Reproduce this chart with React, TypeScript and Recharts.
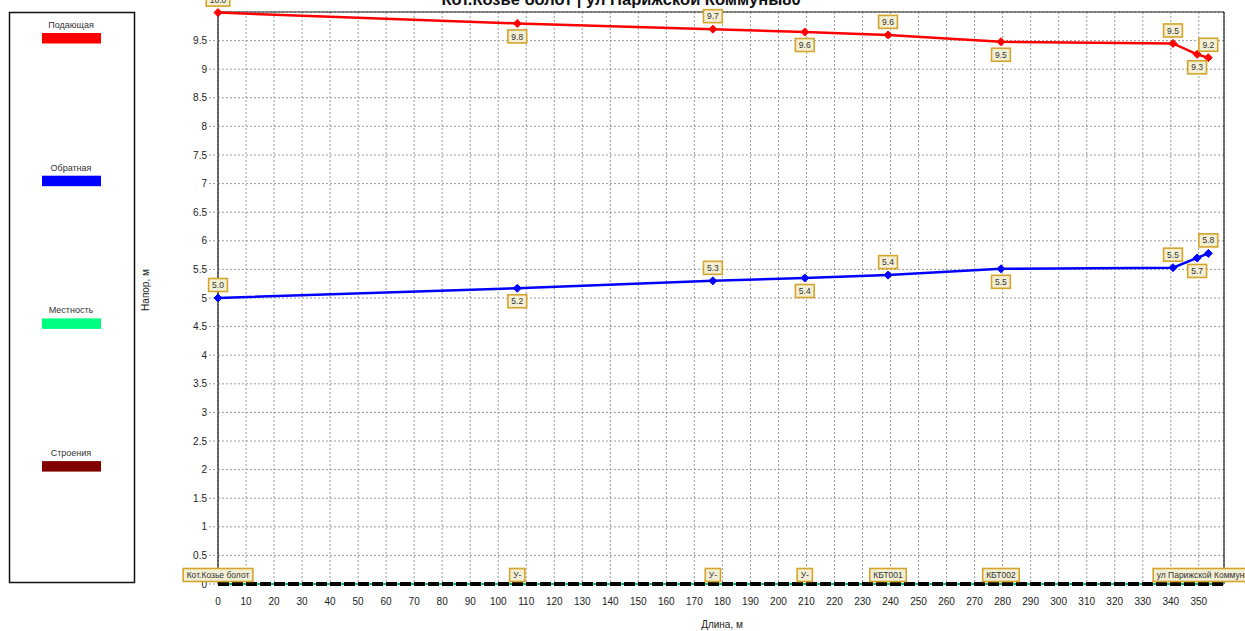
import React from 'react';
import { ComposedChart, Line, XAxis, YAxis, CartesianGrid, ReferenceLine, LabelList } from 'recharts';

const distances = [0, 106.8, 176.6, 209.4, 239.1, 279.4, 340.8, 349.4, 353.4];
const supplyHead = [9.99, 9.8, 9.7, 9.65, 9.6, 9.48, 9.45, 9.26, 9.2];
const supplyLabels = ['10.0', '9.8', '9.7', '9.6', '9.6', '9.5', '9.5', '9.3', '9.2'];
const returnHead = [5.0, 5.17, 5.3, 5.35, 5.4, 5.51, 5.53, 5.7, 5.78];
const returnLabels = ['5.0', '5.2', '5.3', '5.4', '5.4', '5.5', '5.5', '5.7', '5.8'];
const nodeNames = ['Кот.Козье болот', 'У-', 'У-', 'У-', 'КБТ001', 'КБТ002', '', '', 'ул Парижской Коммуны80'];
const groundLevel = [0, 0, 0, 0, 0, 0, 0, 0, 0];

const xTicks = [0, 10, 20, 30, 40, 50, 60, 70, 80, 90, 100, 110, 120, 130, 140, 150, 160, 170, 180, 190, 200, 210, 220, 230, 240, 250, 260, 270, 280, 290, 300, 310, 320, 330, 340, 350];
const yTicks = [0, 0.5, 1, 1.5, 2, 2.5, 3, 3.5, 4, 4.5, 5, 5.5, 6, 6.5, 7, 7.5, 8, 8.5, 9, 9.5];

const legendNames = ['Подающая', 'Обратная', 'Местность', 'Строения'];
const legendColors = ['#ff0000', '#0000ff', '#00ff80', '#800000'];

const title = 'Кот.Козье болот | ул Парижской Коммуны80';
const xLabel = 'Длина, м';
const yLabel = 'Напор, м';

const FONT = "'Liberation Sans', Arial, sans-serif";

const data = distances.map((d, i) => ({
  dist: d,
  supply: supplyHead[i],
  ret: returnHead[i],
  ground: groundLevel[i],
  sLabel: supplyLabels[i],
  rLabel: returnLabels[i],
  node: nodeNames[i],
}));

let ctx: CanvasRenderingContext2D | null = null;
function textWidth(t: string, size: number): number {
  if (!ctx) ctx = document.createElement('canvas').getContext('2d');
  if (!ctx) return t.length * size * 0.5;
  ctx.font = `${size}px ${FONT}`;
  return ctx.measureText(t).width;
}

const boxLabel = (mode: 'alt' | 'node') => (props: any) => {
  const { x, y, index, value } = props;
  const text = value == null ? '' : String(value);
  if (!text || x == null || y == null) return null;
  const fs = 8.5;
  const w = textWidth(text, fs) + 7;
  const h = 13;
  let cy: number;
  if (mode === 'node') cy = y - 9;
  else cy = (index ?? 0) % 2 === 0 ? y - 13 : y + 13;
  return (
    <g key={`${mode}-${index}-${text}`}>
      <rect x={x - w / 2} y={cy - h / 2} width={w} height={h} fill="#f3efd5" stroke="#d4a52c" strokeWidth={1.6} />
      <text x={x} y={cy + 3.1} textAnchor="middle" fontSize={fs} fontFamily={FONT} fill="#333">{text}</text>
    </g>
  );
};

const diamond = (color: string, prefix: string) => (p: any) => {
  const { cx, cy, index } = p;
  if (cx == null || cy == null) return <g key={`${prefix}${index}`} />;
  const r = 4;
  return (
    <polygon key={`${prefix}${index}`} points={`${cx},${cy - r} ${cx + r},${cy} ${cx},${cy + r} ${cx - r},${cy}`} fill={color} stroke={color} />
  );
};

export default function App() {
  return (
    <div style={{ position: 'absolute', left: 0, top: 0, width: 1245, height: 631, background: '#fff' }}>
      <ComposedChart width={1245} height={631} data={data} margin={{ top: 12, right: 21, bottom: 17, left: 158 }}>
        <CartesianGrid stroke="#9a9a9a" strokeDasharray="2 2" vertical horizontal />
        <XAxis
          dataKey="dist"
          type="number"
          domain={[0, 359]}
          ticks={xTicks}
          height={30}
          tickSize={12}
          tickLine={false}
          axisLine={false}
          tick={{ fontSize: 10, fill: '#222', fontFamily: FONT }}
          interval={0}
        />
        <YAxis
          type="number"
          domain={[0, 10]}
          ticks={yTicks}
          width={60}
          tickSize={9}
          tickMargin={2}
          tickLine={{ stroke: '#9a9a9a', strokeDasharray: '2 2' }}
          axisLine={{ stroke: '#111', strokeWidth: 1.2 }}
          tick={{ fontSize: 10, fill: '#222', fontFamily: FONT }}
          interval={0}
        />
        <ReferenceLine y={10} stroke="#222" strokeWidth={1.2} />
        <ReferenceLine x={359} stroke="#222" strokeWidth={1.2} />
        <ReferenceLine y={0} stroke="#00c070" strokeWidth={2} />
        <ReferenceLine y={0} stroke="#000" strokeWidth={4} strokeDasharray="11 3" />
        <Line
          dataKey="ground"
          stroke="none"
          dot={false}
          activeDot={false}
          isAnimationActive={false}
        >
          <LabelList dataKey="node" content={boxLabel('node')} />
        </Line>
        <Line
          dataKey="supply"
          stroke="#ff0000"
          strokeWidth={2.5}
          dot={diamond('#ff0000', 's')}
          activeDot={false}
          isAnimationActive={false}
        >
          <LabelList dataKey="sLabel" content={boxLabel('alt')} />
        </Line>
        <Line
          dataKey="ret"
          stroke="#0000ff"
          strokeWidth={2.5}
          dot={diamond('#0000ff', 'r')}
          activeDot={false}
          isAnimationActive={false}
        >
          <LabelList dataKey="rLabel" content={boxLabel('alt')} />
        </Line>
      </ComposedChart>
      <svg width={1245} height={631} style={{ position: 'absolute', left: 0, top: 0, pointerEvents: 'none' }}>
        <text x={621} y={5} textAnchor="middle" fontSize={16.5} fontWeight="bold" fontFamily={FONT} fill="#111">{title}</text>
        <rect x={9.5} y={12.5} width={125} height={570} fill="none" stroke="#111" strokeWidth={1.5} />
        {legendNames.map((n, i) => (
          <g key={n}>
            <text x={71} y={28 + i * 142.7} textAnchor="middle" fontSize={9} fontFamily={FONT} fill="#333">{n}</text>
            <rect x={42} y={33 + i * 142.7} width={59} height={10.5} fill={legendColors[i]} />
          </g>
        ))}
        <text x={149} y={290} textAnchor="middle" fontSize={10} fontFamily={FONT} fill="#222" transform="rotate(-90 149 290)">{yLabel}</text>
        <text x={722} y={628} textAnchor="middle" fontSize={10} fontFamily={FONT} fill="#222">{xLabel}</text>
      </svg>
    </div>
  );
}
